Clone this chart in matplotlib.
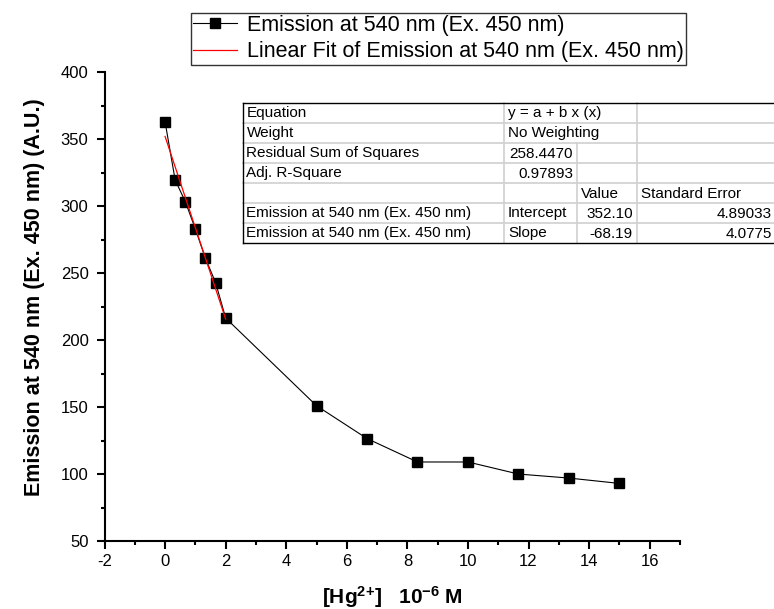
import matplotlib
matplotlib.use("Agg")
import matplotlib.pyplot as plt
from matplotlib.ticker import MultipleLocator
import numpy as np

plt.rcParams['font.family'] = ['Liberation Sans', 'DejaVu Sans']
plt.rcParams['mathtext.fontset'] = 'custom'
plt.rcParams['mathtext.rm'] = 'Liberation Sans'
plt.rcParams['mathtext.bf'] = 'Liberation Sans:bold'
plt.rcParams['mathtext.it'] = 'Liberation Sans:italic'
plt.rcParams['axes.unicode_minus'] = False

# ---- data ----
conc = [0.0, 0.333, 0.667, 1.0, 1.333, 1.667, 2.0, 5.0, 6.667, 8.333, 10.0, 11.667, 13.333, 15.0]
emission = [363.0, 319.5, 303.5, 283.0, 261.0, 243.0, 216.5, 151.0, 126.5, 109.0, 109.0, 100.0, 97.0, 93.0]
fit_range = [0.0, 2.0]
fit_intercept = 352.10
fit_slope = -68.19
series_label = "Emission at 540 nm (Ex. 450 nm)"
fit_label = "Linear Fit of Emission at 540 nm (Ex. 450 nm)"
x_label = r'[Hg$^{\mathbf{2{+}}}$]   10$^{\mathbf{{-}6}}$ M'
y_label = "Emission at 540 nm (Ex. 450 nm) (A.U.)"

table_col0 = ["Equation", "Weight", "Residual Sum of Squares", "Adj. R-Square", "",
              "Emission at 540 nm (Ex. 450 nm)", "Emission at 540 nm (Ex. 450 nm)"]
table_col1 = ["y = a + b x (x)", "No Weighting", "258.4470", "0.97893", "", "Intercept", "Slope"]
table_col2 = ["", "", "", "", "Value", "352.10", "-68.19"]
table_col3 = ["", "", "", "", "Standard Error", "4.89033", "4.0775"]

# ---- figure ----
W, H = 774, 609
fig = plt.figure(figsize=(W / 100, H / 100), dpi=100)
ax = fig.add_axes([104.5 / W, 1 - 541 / H, (680 - 104.5) / W, (541 - 72.3) / H])

ax.plot(conc, emission, color='black', lw=0.8, marker='s', ms=7,
        mfc='black', mec='black', label=series_label, zorder=3)
fx = np.array(fit_range)
ax.plot(fx, fit_intercept + fit_slope * fx, color='red', lw=0.9, label=fit_label, zorder=4)

ax.set_xlim(-2, 17)
ax.set_ylim(50, 400)
ax.xaxis.set_major_locator(MultipleLocator(2))
ax.xaxis.set_minor_locator(MultipleLocator(1))
ax.yaxis.set_major_locator(MultipleLocator(50))
ax.yaxis.set_minor_locator(MultipleLocator(25))
for s in ['top', 'right']:
    ax.spines[s].set_visible(False)
for s in ['left', 'bottom']:
    ax.spines[s].set_linewidth(1.5)
ax.tick_params(which='major', direction='out', length=5.5, width=1.5, labelsize=12)
ax.tick_params(which='minor', direction='out', length=3, width=1.5)
ax.tick_params(axis='x', which='major', pad=4)
ax.tick_params(axis='y', which='major', pad=6)

ax.set_ylabel(y_label, fontsize=15.5, fontweight='bold')
ax.yaxis.set_label_coords(-0.103, 0.52)
ax.set_xlabel(x_label, fontsize=15, fontweight='bold')
ax.xaxis.set_label_coords(0.5, -0.092)

leg = ax.legend(loc='upper right', bbox_to_anchor=(686 / W, 1 - 12.7 / H),
                bbox_transform=fig.transFigure, frameon=True, fancybox=False,
                edgecolor='black', fontsize=15.5, handlelength=2.05, handletextpad=0.47,
                borderpad=0.1, labelspacing=0.26, borderaxespad=0, numpoints=1)
leg.get_frame().set_linewidth(1.0)

# ---- fit results table (pixel overlay) ----
tax = fig.add_axes([0, 0, 1, 1], zorder=5)
tax.set_xlim(0, W)
tax.set_ylim(H, 0)
tax.axis('off')
tax.patch.set_alpha(0)

t_left, t_top, row_h = 242.5, 103.0, 20.0
col_edges = [t_left, 504.0, 577.0, 637.0, 790.0]
n_rows = len(table_col0)
t_bottom = t_top + n_rows * row_h
grey = '#d0d0d0'
for i in range(1, n_rows):
    y = t_top + i * row_h
    tax.plot([t_left, col_edges[-1]], [y, y], color=grey, lw=1.2)
tax.plot([col_edges[1]] * 2, [t_top, t_bottom], color=grey, lw=1.2)
tax.plot([col_edges[3]] * 2, [t_top, t_bottom], color=grey, lw=1.2)
tax.plot([col_edges[2]] * 2, [t_top + 2 * row_h, t_bottom], color=grey, lw=1.2)
tax.plot([t_left, col_edges[-1]], [t_top, t_top], color='black', lw=1.0)
tax.plot([t_left, col_edges[-1]], [t_bottom, t_bottom], color='black', lw=1.0)
tax.plot([t_left, t_left], [t_top, t_bottom], color='black', lw=1.0)

right_cells = {(2, 1), (3, 1), (5, 2), (6, 2), (5, 3), (6, 3)}
pad = 4.0
for c, col in enumerate([table_col0, table_col1, table_col2, table_col3]):
    for r, txt in enumerate(col):
        if not txt:
            continue
        yc = t_top + (r + 0.5) * row_h + 0.5
        if (r, c) in right_cells:
            right = col_edges[c + 1] if c < 3 else 776.0
            tax.text(right - pad, yc, txt, ha='right', va='center', fontsize=11)
        else:
            tax.text(col_edges[c] + pad, yc, txt, ha='left', va='center', fontsize=11)

fig.savefig('out.png', dpi=100)
